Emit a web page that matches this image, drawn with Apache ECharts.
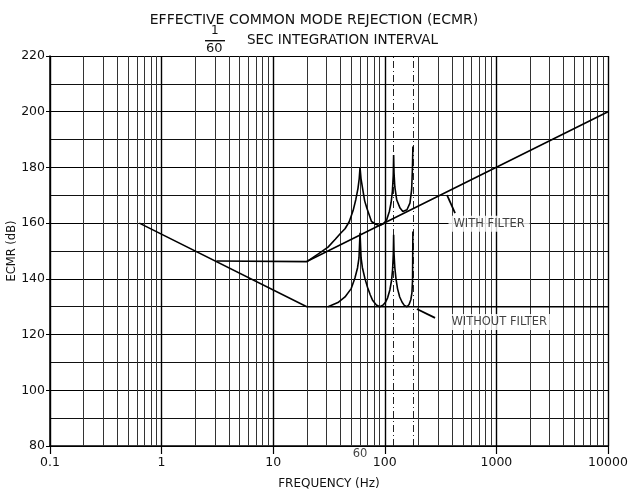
<!DOCTYPE html>
<html>
<head>
<meta charset="utf-8">
<script src="https://cdn.jsdelivr.net/npm/echarts@6/dist/echarts.min.js"></script>
<style>
  html, body { margin: 0; padding: 0; background: #fff; }
  #chart { width: 628px; height: 489px; }
</style>
</head>
<body>
<div id="chart"></div>
<script>
// ---- data (frequency in Hz, ECMR in dB) ----
var freqTicks = [0.1, 1, 10, 100, 1000, 10000];
var harmonics = [120, 180];            // dash-dot lines

var withoutFilter = [[0.632, 160], [20, 130], [10000, 130]];
var withFilter = [[3.1, 146.4], [20, 146.2], [10000, 200]];

var withFilterPeaks = [
    [20, 146.2], [25, 148.8], [31, 151.4], [36, 154.2], [40, 156.3], [44, 158],
    [48, 160.5], [52, 164.5], [55, 168.5], [57.5, 172.5], [59, 176], [60, 180],
    [61.2, 176], [63.5, 172], [66, 168], [69, 165.4], [76, 160.6], [83, 159.6],
    [90, 159.1], [98, 159.9], [104, 161.2], [110, 164.3], [114, 167.5], [117, 171.5],
    [119, 177], [120, 184.5], [121, 178], [123, 173], [128, 168.3], [137, 165.4],
    [145, 164.2], [150, 164], [158, 164.8], [168, 167.2], [174, 172], [177, 180],
    [178.5, 187.5]
];

var withoutFilterPeaks = [
    [31, 130], [38, 131.5], [44, 133.5], [50, 136.5], [54, 140.3], [57, 144],
    [58.7, 147.5], [60, 156.5], [61.3, 147.5], [63, 144], [66.5, 140], [70, 137],
    [74, 134.3], [78, 132.2], [84, 130.6], [90, 130], [96, 130.5], [101, 131.5],
    [106, 133.2], [111, 136], [115, 139.5], [117.5, 143.5], [119.2, 149], [120, 155.8],
    [121, 149], [123, 144], [126, 140], [130, 136.5], [136, 133.5], [143, 131.6],
    [150, 130.4], [158, 130], [165, 130.8], [171, 132.5], [175, 135], [177.3, 139.5],
    [178.5, 157]
];

var notes = [
    { text: 'WITH FILTER', at: [860, 159.8], from: [426, 163.6], to: [361, 170.1] },
    { text: 'WITHOUT FILTER', at: [1060, 124.5], from: [282, 126], to: [194, 129.2] }
];

var font = 'DejaVu Sans';

// log-paper minor lines 2..9 in each decade
var minorLines = [];
for (var d = 0; d < freqTicks.length - 1; d++) {
    for (var m = 2; m <= 9; m++) {
        minorLines.push({ xAxis: +(freqTicks[d] * m).toPrecision(3) });
    }
}

var chart = echarts.init(document.getElementById('chart'), null, { renderer: 'canvas' });

var curveStyle = { color: '#000', width: 1.6 };

option = {
    animation: false,
    backgroundColor: '#fff',
    title: {
        text: 'EFFECTIVE COMMON MODE REJECTION (ECMR)',
        left: 'center',
        top: 8,
        textStyle: { fontFamily: font, fontSize: 14, fontWeight: 'normal', color: '#111' }
    },
    graphic: [
        { type: 'text', left: 211, top: 25, style: { text: '1', font: '12px ' + font, fill: '#111' } },
        { type: 'rect', shape: { x: 205, y: 40, width: 20, height: 1.4 }, style: { fill: '#111' } },
        { type: 'text', left: 206, top: 42, style: { text: '60', font: '13px ' + font, fill: '#111' } },
        { type: 'text', left: 247, top: 33, style: { text: 'SEC INTEGRATION INTERVAL', font: '13.5px ' + font, fill: '#111' } }
    ],
    grid: { left: 50, right: 20, top: 56, bottom: 43, containLabel: false, outerBoundsMode: 'none' },
    xAxis: {
        type: 'log',
        logBase: 10,
        min: 0.1,
        max: 10000,
        name: 'FREQUENCY (Hz)',
        nameLocation: 'middle',
        nameGap: 32,
        nameMoveOverlap: false,
        nameTextStyle: { fontFamily: font, fontSize: 12, color: '#111' },
        axisLine: { lineStyle: { color: '#000', width: 1.5 } },
        axisTick: { length: 8, lineStyle: { color: '#000', width: 1.2 } },
        axisLabel: {
            margin: 10,
            fontFamily: font,
            fontSize: 12.5,
            color: '#111',
            formatter: function (v) { return String(+(+v).toPrecision(3)); }
        },
        splitLine: { show: true, lineStyle: { color: '#000', width: 1.4 } }
    },
    yAxis: {
        type: 'value',
        min: 80,
        max: 220,
        interval: 20,
        name: 'ECMR (dB)',
        nameLocation: 'middle',
        nameGap: 32,
        nameMoveOverlap: false,
        nameTextStyle: { fontFamily: font, fontSize: 11.5, color: '#111' },
        axisLine: { show: true, lineStyle: { color: '#000', width: 1.5 } },
        axisTick: { show: true, length: 4, lineStyle: { color: '#000' } },
        axisLabel: { margin: 5, fontFamily: font, fontSize: 12.5, color: '#111' },
        splitLine: { show: true, lineStyle: { color: '#000', width: 1.2 } },
        minorTick: { show: false, splitNumber: 2 },
        minorSplitLine: { show: true, lineStyle: { color: '#111', width: 1 } }
    },
    series: [
        {
            name: 'without filter',
            type: 'line',
            data: withoutFilter,
            showSymbol: false,
            lineStyle: curveStyle,
            z: 5,
            markLine: {
                silent: true,
                symbol: 'none',
                label: { show: false },
                lineStyle: { color: '#333', width: 1, type: 'solid' },
                data: minorLines.concat(harmonics.map(function (f) {
                    return { xAxis: f, lineStyle: { type: [7, 3, 1, 3], color: '#222' } };
                }))
            }
        },
        {
            name: 'with filter',
            type: 'line',
            data: withFilter,
            showSymbol: false,
            lineStyle: curveStyle,
            z: 5
        },
        {
            name: 'with filter peaks',
            type: 'line',
            data: withFilterPeaks,
            showSymbol: false,
            lineStyle: curveStyle,
            z: 5
        },
        {
            name: 'without filter peaks',
            type: 'line',
            data: withoutFilterPeaks,
            showSymbol: false,
            lineStyle: curveStyle,
            z: 5
        },
        {
            name: 'notes',
            type: 'scatter',
            symbolSize: 0,
            z: 10,
            data: notes.map(function (n) { return { value: n.at, name: n.text }; }),
            label: {
                show: true,
                position: 'inside',
                formatter: '{b}',
                fontFamily: font,
                fontSize: 11.5,
                color: '#111',
                backgroundColor: '#fff',
                padding: [2, 5]
            },
            markLine: {
                silent: true,
                symbol: ['none', 'arrow'],
                symbolSize: [0, 11],
                label: { show: false },
                lineStyle: { color: '#000', width: 1.8, type: 'solid' },
                data: notes.map(function (n) {
                    return [{ coord: n.from }, { coord: n.to }];
                })
            }
        },
        {
            name: '60 Hz label',
            type: 'scatter',
            symbolSize: 0,
            z: 10,
            data: [[60, 80]],
            label: {
                show: true,
                position: 'bottom',
                distance: 2,
                formatter: '60',
                fontFamily: font,
                fontSize: 11.5,
                color: '#111'
            }
        }
    ]
};

chart.setOption(option);
</script>
</body>
</html>
